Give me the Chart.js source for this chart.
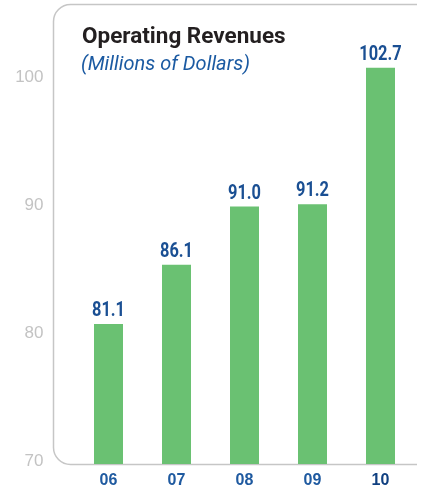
<!DOCTYPE html>
<html>
<head>
<meta charset="utf-8">
<script src="https://cdn.jsdelivr.net/npm/chart.js@4/dist/chart.umd.min.js"></script>
<style>
  html, body { margin: 0; padding: 0; background: #ffffff; overflow: hidden; }
  #wrap { position: relative; width: 421px; height: 488px; }
</style>
</head>
<body>
<div id="wrap"><canvas id="revenueChart"></canvas></div>
<script>
// Chart data
const years = ['06', '07', '08', '09', '10'];
const revenues = [81.1, 86.1, 91.0, 91.2, 102.7];
const yTickValues = [70, 80, 90, 100];

const titleText = 'Operating Revenues';
const subtitleText = '(Millions of Dollars)';

const barColor = '#6ac172';
const labelBlue = '#1a4f93';
const frameGray = '#c6c6c6';

// Rounded frame on the left / top plus the bottom axis line
const framePlugin = {
    id: 'frame',
    beforeDraw(chart) {
        const ctx = chart.ctx;
        const left = 53.5, top = 4.5, bottom = 464.5, right = 417, r = 17;
        ctx.save();
        ctx.strokeStyle = frameGray;
        ctx.lineWidth = 1.5;
        ctx.beginPath();
        ctx.moveTo(right, top);
        ctx.lineTo(left + r, top);
        ctx.arcTo(left, top, left, top + r, r);
        ctx.lineTo(left, bottom - r);
        ctx.arcTo(left, bottom, left + r, bottom, r);
        ctx.lineTo(right, bottom);
        ctx.stroke();
        ctx.restore();
    }
};

// Title and subtitle in the top-left corner
const headingPlugin = {
    id: 'heading',
    afterDraw(chart) {
        const ctx = chart.ctx;
        ctx.save();
        ctx.textAlign = 'left';
        ctx.textBaseline = 'alphabetic';
        ctx.fillStyle = '#231f20';
        ctx.font = 'bold 22.5px Roboto';
        ctx.fillText(titleText, 82, 43);
        ctx.fillStyle = '#1b5aa2';
        ctx.font = 'italic 20px Roboto';
        ctx.fillText(subtitleText, 81, 70);
        ctx.restore();
    }
};

// Value labels above each bar (Roboto squeezed to look condensed)
const valueLabelPlugin = {
    id: 'valueLabels',
    afterDatasetsDraw(chart) {
        const ctx = chart.ctx;
        const meta = chart.getDatasetMeta(0);
        ctx.save();
        ctx.fillStyle = labelBlue;
        ctx.font = 'bold 20px Roboto';
        ctx.textAlign = 'center';
        ctx.textBaseline = 'alphabetic';
        meta.data.forEach(function(bar, i) {
            ctx.save();
            ctx.translate(bar.x, bar.y - 8);
            ctx.scale(0.82, 1);
            ctx.fillText(revenues[i].toFixed(1), 0, 0);
            ctx.restore();
        });
        ctx.restore();
    }
};

new Chart(document.getElementById('revenueChart'), {
    type: 'bar',
    data: {
        labels: years,
        datasets: [{
            data: revenues,
            backgroundColor: barColor,
            borderWidth: 0,
            yAxisID: 'yBars',
            categoryPercentage: 1,
            barPercentage: 29 / 68
        }]
    },
    options: {
        responsive: true,
        maintainAspectRatio: false,
        animation: false,
        devicePixelRatio: 1,
        layout: {
            padding: { top: 40, right: 6.5, left: 0, bottom: 0 }
        },
        plugins: {
            legend: { display: false },
            tooltip: { enabled: false }
        },
        scales: {
            x: {
                grid: { display: false, drawTicks: false },
                border: { display: false },
                ticks: {
                    padding: 7,
                    maxRotation: 0,
                    color: function(c) { return c.index === 4 ? '#0f3f80' : '#1f5aa0'; },
                    font: function(c) {
                        return { family: '"Liberation Sans"', size: 16, weight: c.index === 4 ? '900' : 'bold' };
                    }
                },
                afterFit: function(scale) { scale.height = 24; }
            },
            y: {
                position: 'left',
                min: 69.77,
                max: 102.95,
                grid: { display: false, drawTicks: false },
                border: { display: false },
                afterBuildTicks: function(scale) {
                    scale.ticks = yTickValues.map(function(v) { return { value: v }; });
                },
                ticks: {
                    padding: 31,
                    color: '#c3c3c3',
                    font: { family: '"Liberation Sans"', size: 17 }
                },
                afterFit: function(scale) {
                    // the big tick padding should only push labels left, not shrink the plot
                    scale.width = 74.5;
                    scale.paddingTop = 0;
                    scale.paddingBottom = 0;
                }
            },
            yBars: {
                display: false,
                min: 69.31,
                max: 105.03
            }
        }
    },
    plugins: [framePlugin, headingPlugin, valueLabelPlugin]
});
</script>
</body>
</html>
